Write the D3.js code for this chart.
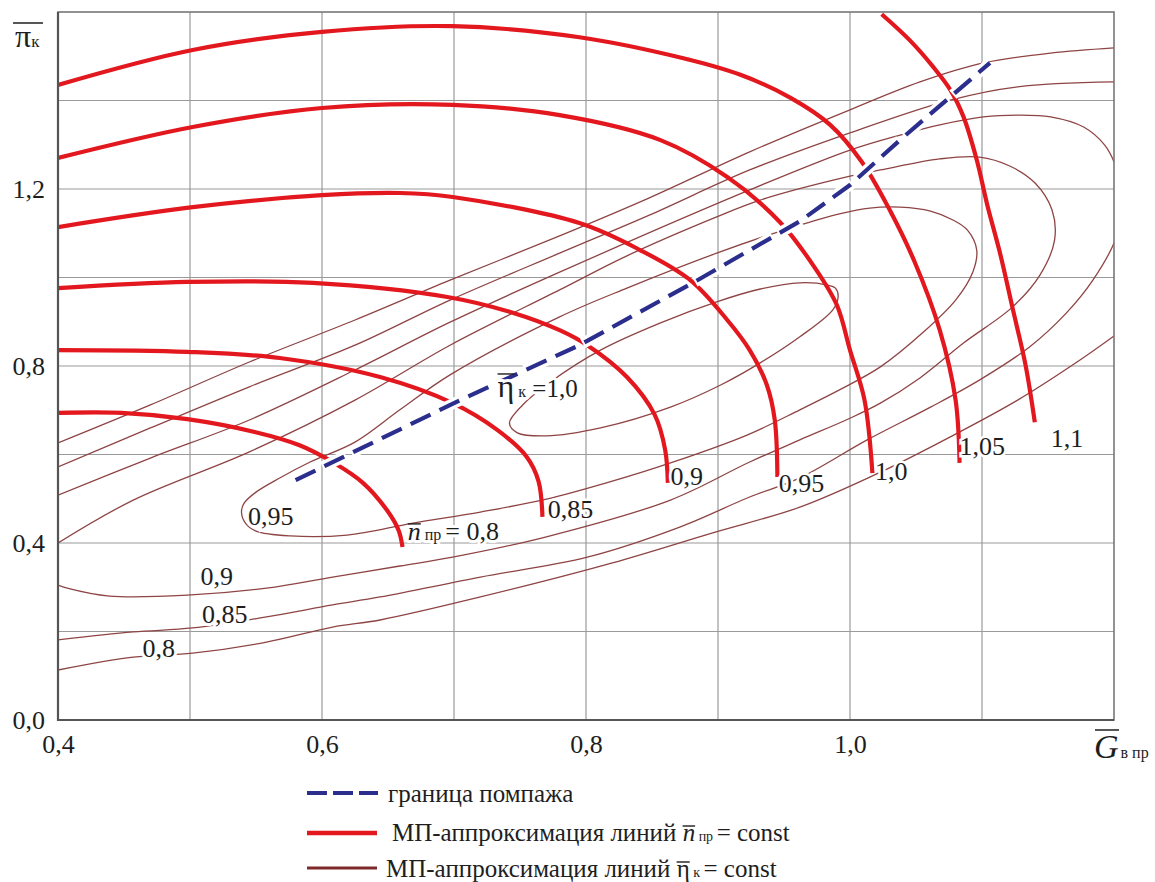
<!DOCTYPE html>
<html>
<head>
<meta charset="utf-8">
<script src="https://cdn.jsdelivr.net/npm/d3@7"></script>
<style>
  body { margin: 0; background: #fff; }
  svg, svg text { font-family: 'Liberation Serif', 'Times New Roman', Tinos, 'DejaVu Serif', serif; }
</style>
</head>
<body>
<div id="chart"></div>
<script>
// ---- data (G_в пр, π_к) ----
const xTickValues = [0.4, 0.6, 0.8, 1.0];
const yTickValues = [0.0, 0.4, 0.8, 1.2];
const xGridValues = [0.5, 0.6, 0.7, 0.8, 0.9, 1.0, 1.1];
const yGridValues = [0.2, 0.4, 0.6, 0.8, 1.0, 1.2, 1.4];

// speed lines n_пр = const
const speedLabels = ['0,8', '0,85', '0,9', '0,95', '1,0', '1,05', '1,1'];
const speed080 = [[0.400,0.694],[0.448,0.694],[0.498,0.680],[0.549,0.651],[0.583,0.621],[0.608,0.583],[0.631,0.536],[0.649,0.475],[0.658,0.429],[0.661,0.391]];
const speed085 = [[0.400,0.836],[0.498,0.832],[0.568,0.818],[0.644,0.775],[0.699,0.716],[0.733,0.655],[0.755,0.595],[0.764,0.540],[0.767,0.459]];
const speed090 = [[0.400,0.976],[0.498,0.990],[0.593,0.988],[0.695,0.956],[0.745,0.920],[0.780,0.881],[0.801,0.847],[0.831,0.775],[0.852,0.690],[0.860,0.610],[0.862,0.536]];
const speed095 = [[0.400,1.114],[0.502,1.159],[0.600,1.186],[0.659,1.191],[0.699,1.182],[0.795,1.123],[0.841,1.062],[0.879,0.994],[0.907,0.904],[0.924,0.836],[0.937,0.757],[0.943,0.678],[0.945,0.549]];
const speed100 = [[0.400,1.270],[0.502,1.340],[0.600,1.383],[0.699,1.390],[0.780,1.367],[0.856,1.311],[0.907,1.227],[0.947,1.125],[0.972,1.028],[0.990,0.938],[1.000,0.836],[1.011,0.723],[1.017,0.558]];
const speed105 = [[0.400,1.435],[0.502,1.514],[0.600,1.555],[0.699,1.568],[0.795,1.543],[0.873,1.496],[0.917,1.458],[0.955,1.406],[0.985,1.345],[1.009,1.261],[1.030,1.153],[1.049,1.035],[1.068,0.881],[1.080,0.723],[1.083,0.581]];
const speed110 = [[1.024,1.595],[1.045,1.537],[1.063,1.476],[1.076,1.424],[1.086,1.363],[1.096,1.266],[1.104,1.164],[1.114,1.051],[1.123,0.933],[1.133,0.802],[1.140,0.673]];
const speedLines = [speed080, speed085, speed090, speed095, speed100, speed105, speed110];

// surge line
const surgeLine = [[0.580,0.542],[0.702,0.719],[0.795,0.847],[0.881,0.988],[0.962,1.127],[1.000,1.209],[1.038,1.311],[1.106,1.485]];

// efficiency lines eta_к = const
const eff100Loop = [[0.742,0.671],[0.748,0.649],[0.770,0.642],[0.811,0.660],[0.864,0.707],[0.902,0.757],[0.932,0.807],[0.962,0.866],[0.987,0.927],[0.991,0.956],[0.989,0.976],[0.983,0.983],[0.962,0.988],[0.932,0.974],[0.899,0.945],[0.856,0.897],[0.811,0.836],[0.773,0.764],[0.752,0.712]];
const eff095Loop = [[0.539,0.470],[0.542,0.445],[0.550,0.427],[0.576,0.416],[0.619,0.418],[0.669,0.445],[0.720,0.470],[0.770,0.499],[0.818,0.538],[0.864,0.581],[0.922,0.644],[0.962,0.701],[0.992,0.746],[1.023,0.798],[1.055,0.875],[1.080,0.949],[1.093,1.012],[1.096,1.062],[1.089,1.107],[1.078,1.130],[1.061,1.150],[1.038,1.159],[1.015,1.157],[0.992,1.144],[0.957,1.114],[0.899,1.055],[0.831,0.976],[0.780,0.911],[0.697,0.780],[0.659,0.701],[0.625,0.628],[0.591,0.583],[0.568,0.547],[0.550,0.515],[0.541,0.490]];
const eff090 = [[0.400,0.305],[0.407,0.298],[0.439,0.280],[0.498,0.282],[0.558,0.298],[0.608,0.323],[0.659,0.348],[0.699,0.368],[0.770,0.414],[0.864,0.497],[0.924,0.583],[0.962,0.633],[1.000,0.682],[1.023,0.716],[1.053,0.773],[1.086,0.852],[1.123,0.933],[1.144,1.006],[1.155,1.085],[1.153,1.153],[1.140,1.214],[1.121,1.252],[1.098,1.272],[1.068,1.268],[1.023,1.243],[1.000,1.229],[0.932,1.175],[0.899,1.137],[0.831,1.049],[0.780,0.972],[0.697,0.847],[0.625,0.723],[0.545,0.606],[0.457,0.497],[0.400,0.400]];
const eff085 = [[0.400,0.181],[0.457,0.199],[0.502,0.208],[0.558,0.233],[0.608,0.260],[0.644,0.278],[0.720,0.323],[0.801,0.368],[0.871,0.436],[0.924,0.504],[0.962,0.547],[1.013,0.633],[1.061,0.707],[1.098,0.768],[1.136,0.843],[1.164,0.920],[1.184,0.994],[1.201,1.085],[1.208,1.175],[1.201,1.254],[1.193,1.299],[1.177,1.340],[1.152,1.363],[1.127,1.367],[1.101,1.363],[1.068,1.345],[1.038,1.322],[1.000,1.288],[0.924,1.198],[0.780,1.012],[0.697,0.899],[0.625,0.791],[0.545,0.678],[0.470,0.592],[0.400,0.508]];
const eff080Lower = [[0.400,0.113],[0.457,0.142],[0.502,0.151],[0.558,0.176],[0.608,0.210],[0.644,0.226],[0.720,0.278],[0.820,0.355],[0.896,0.423],[0.962,0.481],[1.023,0.560],[1.076,0.640],[1.127,0.723],[1.172,0.809],[1.201,0.870]];
const eff080Upper = [[0.400,0.572],[0.470,0.660],[0.545,0.753],[0.625,0.847],[0.697,0.949],[0.780,1.055],[0.848,1.141],[0.924,1.243],[1.000,1.327],[1.076,1.401],[1.127,1.431],[1.201,1.442]];
const eff075Upper = [[0.400,0.626],[0.470,0.712],[0.545,0.809],[0.625,0.904],[0.697,0.994],[0.780,1.094],[0.848,1.180],[0.924,1.284],[1.000,1.379],[1.053,1.442],[1.101,1.485],[1.152,1.507],[1.201,1.519]];
const effClosed = [eff100Loop, eff095Loop];
const effOpen = [eff090, eff085, eff080Lower, eff080Upper, eff075Upper];

// labels: [G, π] of the text start
const speedLabelPos = [[0.771,0.457],[0.864,0.531],[0.946,0.515],[1.019,0.542],[1.083,0.599],[1.152,0.617]];
const effLabels = [['0,95',0.544,0.441],['0,9',0.508,0.305],['0,85',0.509,0.219],['0,8',0.464,0.142]];

// ---- drawing ----
const W = 1155, H = 882;
const FONT = "'Liberation Serif', 'Times New Roman', Tinos, 'DejaVu Serif', serif";
const x = d3.scaleLinear().domain([0.4, 1.2]).range([58, 1114]);
const y = d3.scaleLinear().domain([0, 1.6]).range([720, 12]);
const ink = '#1e1e1e';
const comma = d => d3.format('.1f')(d).replace('.', ',');

const svg = d3.select('#chart').append('svg').attr('width', W).attr('height', H)
  .attr('font-family', FONT);

svg.append('clipPath').attr('id', 'plot')
  .append('rect').attr('x', x(0.4)).attr('y', y(1.6))
  .attr('width', x(1.2) - x(0.4)).attr('height', y(0) - y(1.6));

// grid
svg.append('g').selectAll('line').data(xGridValues).join('line')
  .attr('x1', d => x(d)).attr('x2', d => x(d)).attr('y1', y(0)).attr('y2', y(1.6))
  .attr('stroke', '#9a9a9a').attr('stroke-width', 1.2);
svg.append('g').selectAll('line').data(yGridValues).join('line')
  .attr('x1', x(0.4)).attr('x2', x(1.2)).attr('y1', d => y(d)).attr('y2', d => y(d))
  .attr('stroke', '#9a9a9a').attr('stroke-width', 1.2);

const plot = svg.append('g').attr('clip-path', 'url(#plot)');

const openLine = d3.line().x(d => x(d[0])).y(d => y(d[1])).curve(d3.curveCatmullRom.alpha(0.5));
const closedLine = d3.line().x(d => x(d[0])).y(d => y(d[1])).curve(d3.curveCatmullRomClosed.alpha(0.5));
const straight = d3.line().x(d => x(d[0])).y(d => y(d[1]));

const effColor = '#8e4444';
plot.append('g').selectAll('path').data(effClosed).join('path')
  .attr('d', closedLine).attr('fill', 'none').attr('stroke', effColor).attr('stroke-width', 1.3);
plot.append('g').selectAll('path').data(effOpen).join('path')
  .attr('d', openLine).attr('fill', 'none').attr('stroke', effColor).attr('stroke-width', 1.3);

const red = '#e3171e';
plot.append('g').selectAll('path').data(speedLines).join('path')
  .attr('d', openLine).attr('fill', 'none').attr('stroke', red).attr('stroke-width', 4.2);

// surge line with white knock-out under the dashes
plot.append('path').attr('d', straight(surgeLine)).attr('fill', 'none')
  .attr('stroke', '#fff').attr('stroke-width', 11).attr('stroke-dasharray', '26,6')
  .attr('stroke-dashoffset', 2);
plot.append('path').attr('d', straight(surgeLine)).attr('fill', 'none')
  .attr('stroke', '#2b2e8c').attr('stroke-width', 4.2).attr('stroke-dasharray', '22,10');

// frame
svg.append('rect').attr('x', x(0.4)).attr('y', y(1.6))
  .attr('width', x(1.2) - x(0.4)).attr('height', y(0) - y(1.6))
  .attr('fill', 'none').attr('stroke', '#777').attr('stroke-width', 1.6);
svg.append('path').attr('d', `M${x(0.4)},${y(1.6)}V${y(0)}H${x(1.2)}`)
  .attr('fill', 'none').attr('stroke', '#555').attr('stroke-width', 2.2);

// axes (labels only)
const gx = svg.append('g').attr('transform', `translate(0,${y(0)})`)
  .call(d3.axisBottom(x).tickValues(xTickValues).tickFormat(comma).tickSize(0).tickPadding(15));
const gy = svg.append('g').attr('transform', `translate(${x(0.4)},0)`)
  .call(d3.axisLeft(y).tickValues(yTickValues).tickFormat(comma).tickSize(0).tickPadding(13));
[gx, gy].forEach(g => {
  g.select('.domain').remove();
  g.attr('font-family', FONT).attr('font-size', 26);
  g.selectAll('text').attr('font-family', FONT).attr('font-size', 26).attr('fill', ink);
});

// text helper with overlined parts
function richText(sel, px, py, size, parts, halo) {
  const t = sel.append('text').attr('x', px).attr('y', py).attr('font-size', size)
    .attr('font-family', FONT).attr('fill', ink);
  if (halo) t.attr('stroke', '#fff').attr('stroke-width', 6).attr('paint-order', 'stroke').attr('stroke-linejoin', 'round');
  let idx = 0;
  const overs = [];
  parts.forEach(p => {
    const s = t.append('tspan').text(p.t);
    if (p.size) s.attr('font-size', p.size);
    if (p.italic) s.attr('font-style', 'italic');
    if (p.dx) s.attr('dx', p.dx);
    if (p.over) overs.push([idx, idx + p.t.length - 1, p.over]);
    idx += p.t.length;
  });
  overs.forEach(([a, b, off]) => {
    const ea = t.node().getExtentOfChar(a), eb = t.node().getExtentOfChar(b);
    sel.append('line').attr('x1', ea.x).attr('x2', eb.x + eb.width)
      .attr('y1', ea.y + off).attr('y2', ea.y + off)
      .attr('stroke', ink).attr('stroke-width', 1.4);
  });
  return t;
}

const labels = svg.append('g');
// speed line labels
speedLabels.slice(1).forEach((s, i) => {
  labels.append('text').attr('x', x(speedLabelPos[i][0])).attr('y', y(speedLabelPos[i][1]))
    .attr('font-size', 26).attr('font-family', FONT).attr('fill', ink)
    .attr('stroke', '#fff').attr('stroke-width', 5).attr('paint-order', 'stroke')
    .text(s);
});
richText(labels, x(0.665), y(0.407), 26,
  [{t: 'n', italic: true, over: 7}, {t: ' пр ', size: 16}, {t: '= ' + speedLabels[0]}], true);

// efficiency labels
effLabels.forEach(d => {
  labels.append('text').attr('x', x(d[1])).attr('y', y(d[2]))
    .attr('font-size', 26).attr('font-family', FONT).attr('fill', ink)
    .attr('stroke', '#fff').attr('stroke-width', 6).attr('paint-order', 'stroke')
    .text(d[0]);
});
richText(labels, x(0.733), y(0.730), 32,
  [{t: 'η', over: 6}, {t: ' к', size: 16}, {t: ' =1,0', size: 25}], true);

// axis titles
richText(svg, 15, 47, 32, [{t: 'π'}, {t: 'к', size: 17}]);
svg.append('line').attr('x1', 13).attr('x2', 43).attr('y1', 23).attr('y2', 23)
  .attr('stroke', ink).attr('stroke-width', 1.5);
richText(svg, 1094, 758, 34, [{t: 'G', italic: true}, {t: 'в пр', size: 16, dx: 2}]);
svg.append('line').attr('x1', 1095).attr('x2', 1119).attr('y1', 730).attr('y2', 730)
  .attr('stroke', ink).attr('stroke-width', 1.5);

// legend
const legend = svg.append('g');
legend.append('line').attr('x1', 307).attr('x2', 378).attr('y1', 793).attr('y2', 793)
  .attr('stroke', '#2b2e8c').attr('stroke-width', 4).attr('stroke-dasharray', '20,6');
legend.append('line').attr('x1', 307).attr('x2', 377).attr('y1', 833).attr('y2', 833)
  .attr('stroke', red).attr('stroke-width', 4.5);
legend.append('line').attr('x1', 307).attr('x2', 377).attr('y1', 868).attr('y2', 868)
  .attr('stroke', '#7e2a2a').attr('stroke-width', 3);
richText(legend, 388, 802, 25, [{t: 'граница помпажа'}]);
richText(legend, 392, 841, 25,
  [{t: 'МП-аппроксимация линий '}, {t: 'n', italic: true, over: 7}, {t: ' пр ', size: 14}, {t: '= const'}]);
richText(legend, 386, 877, 25,
  [{t: 'МП-аппроксимация линий '}, {t: 'η', over: 7}, {t: ' к ', size: 14}, {t: '= const'}]);
</script>
</body>
</html>
